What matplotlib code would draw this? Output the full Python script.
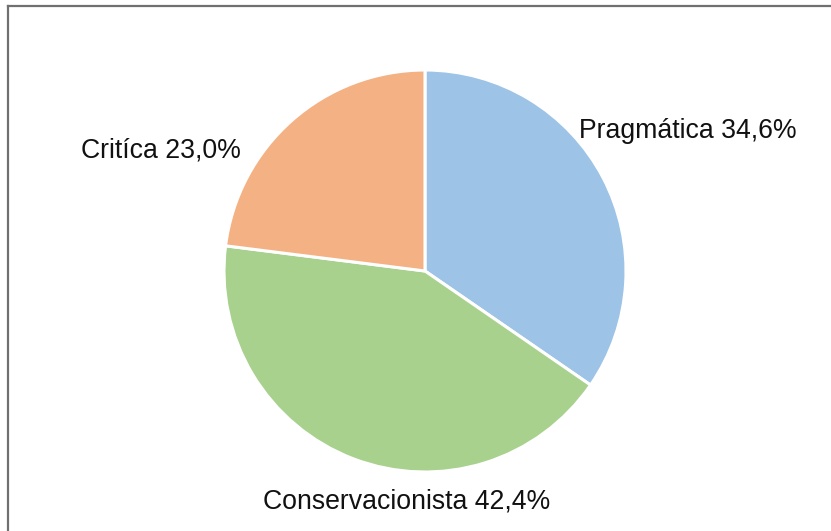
import matplotlib.pyplot as plt

# Participação de cada vertente
categorias = ['Pragmática', 'Conservacionista', 'Critíca']
percentuais = [34.6, 42.4, 23.0]
cores = ['#9DC3E6', '#A9D18E', '#F4B183']

W, H = 831, 531
fig = plt.figure(figsize=(W / 100, H / 100), dpi=100)
plt.rcParams['font.family'] = ['Liberation Sans', 'DejaVu Sans']

# moldura (só topo e esquerda aparecem)
fig.add_artist(plt.Line2D([7.5 / W, 1], [1 - 5.5 / H, 1 - 5.5 / H], color='#707070', lw=1.6))
fig.add_artist(plt.Line2D([7.5 / W, 7.5 / W], [0, 1 - 5.5 / H], color='#707070', lw=1.6))

cx, cy, r = 425, 271, 201
ax = fig.add_axes([(cx - r) / W, 1 - (cy + r) / H, 2 * r / W, 2 * r / H])
ax.pie(percentuais, colors=cores, startangle=90, counterclock=False, radius=1,
       wedgeprops=dict(edgecolor='white', linewidth=2.2))
ax.set_xlim(-1, 1)
ax.set_ylim(-1, 1)
ax.axis('off')

# posição dos rótulos em pixels (x, y a partir do topo)
pos_rotulos = [(688, 131), (407, 502), (161, 150)]
for nome, val, (px, py) in zip(categorias, percentuais, pos_rotulos):
    txt = f'{nome} {val:.1f}%'.replace('.', ',')
    fig.text(px / W, 1 - py / H, txt, ha='center', va='center', fontsize=19.2, color='#111111')

fig.savefig('out.png', dpi=100)
